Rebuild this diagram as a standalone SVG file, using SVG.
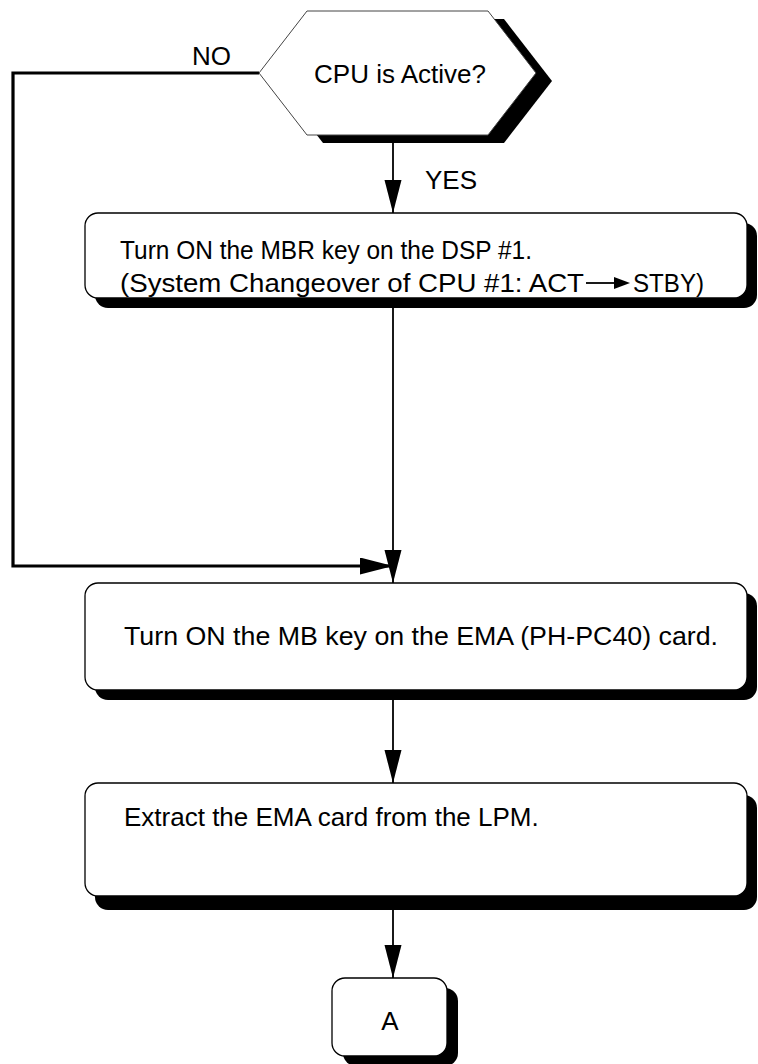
<svg xmlns="http://www.w3.org/2000/svg" width="758" height="1064" viewBox="0 0 758 1064">
<defs>
<style>
.box{fill:#fff;stroke:#000;stroke-width:1.3}
.sh{fill:#000}
.t{font-family:"Liberation Sans",Arial,sans-serif;font-size:26px;fill:#000}
.ln{fill:none;stroke:#000;stroke-width:1.8}
.lnb{fill:none;stroke:#000;stroke-width:3.2}
</style>
<marker id="ah" markerUnits="userSpaceOnUse" markerWidth="34" markerHeight="18" refX="33" refY="8.5" orient="auto">
<path d="M0,0 L33,8.5 L0,17 z" fill="#000"/>
</marker>
</defs>
<rect width="758" height="1064" fill="#fff"/>
<g id="connectors">
<polyline class="lnb" points="259,73 13,73 13,566 393,566" marker-end="url(#ah)"/>
<line class="ln" x1="393" y1="143" x2="393" y2="213" marker-end="url(#ah)"/>
<line class="ln" x1="393" y1="307" x2="393" y2="583" marker-end="url(#ah)"/>
<line class="ln" x1="393" y1="700" x2="393" y2="783" marker-end="url(#ah)"/>
<line class="ln" x1="393" y1="910" x2="393" y2="978" marker-end="url(#ah)"/>
<text class="t" x="192" y="65">NO</text>
<text class="t" x="425" y="189">YES</text>
</g>
<g id="decision">
<polygon class="sh" points="275,81 323,143 504,143 552,81 504,19 323,19"/>
<polygon fill="#fff" stroke="#444" stroke-width="1" points="259,73 307,11 488,11 536,73 488,135 307,135"/>
<text class="t" x="400" y="83" text-anchor="middle">CPU is Active?</text>
</g>
<g id="box1">
<rect class="sh" x="95" y="223" width="662" height="85" rx="13"/>
<rect class="box" x="85" y="213" width="662" height="85" rx="13"/>
<text class="t" x="120" y="259" textLength="412" lengthAdjust="spacingAndGlyphs">Turn ON the MBR key on the DSP #1.</text>
<text class="t" x="120" y="292" textLength="464" lengthAdjust="spacingAndGlyphs">(System Changeover of CPU #1: ACT</text>
<line x1="586" y1="283" x2="618" y2="283" stroke="#000" stroke-width="1.8"/>
<path d="M614,277 L630,283 L614,289 z" fill="#000"/>
<text class="t" x="633" y="292" textLength="71" lengthAdjust="spacingAndGlyphs">STBY)</text>
</g>
<g id="box2">
<rect class="sh" x="95" y="593" width="662" height="107" rx="13"/>
<rect class="box" x="85" y="583" width="662" height="107" rx="13"/>
<text class="t" x="124" y="645" textLength="594" lengthAdjust="spacingAndGlyphs">Turn ON the MB key on the EMA (PH-PC40) card.</text>
</g>
<g id="box3">
<rect class="sh" x="95" y="795" width="662" height="115" rx="13"/>
<rect class="box" x="85" y="783" width="662" height="113" rx="13"/>
<text class="t" x="124" y="826">Extract the EMA card from the LPM.</text>
</g>
<g id="connectorA">
<rect class="sh" x="343" y="988" width="115" height="78" rx="13"/>
<rect class="box" x="332" y="978" width="115" height="78" rx="13"/>
<text class="t" x="390" y="1030" text-anchor="middle">A</text>
</g>
</svg>
